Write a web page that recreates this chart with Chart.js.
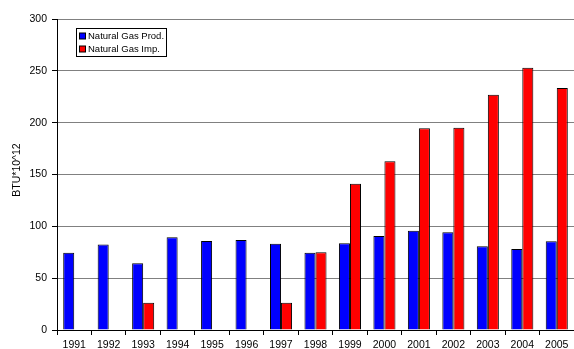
<!DOCTYPE html>
<html>
<head>
<meta charset="utf-8">
<title>Natural Gas</title>
<script src="https://cdn.jsdelivr.net/npm/chart.js@4.4.1/dist/chart.umd.min.js"></script>
<style>
    html, body { margin: 0; padding: 0; background: #fff; }
    #wrap { width: 574px; height: 349px; }
</style>
</head>
<body>
<div id="wrap"><canvas id="gasChart" width="574" height="349"></canvas></div>
<script>
// Chart data
const years = ['1991', '1992', '1993', '1994', '1995', '1996', '1997', '1998',
    '1999', '2000', '2001', '2002', '2003', '2004', '2005'];
const production = [74.5, 82.5, 64.5, 89.5, 85.8, 86.8, 83.2, 74.5, 83.6, 90.7, 95.8, 94.3, 80.7, 78.1, 85.5];
const imports = [null, null, 26.3, null, null, null, 26.3, 75, 141, 162.7, 194.5, 195, 227, 253, 233.4];
const yTicks = [0, 50, 100, 150, 200, 250, 300];
const yTitle = 'BTU*10^12';

const fontFamily = 'Arial, "Liberation Sans", sans-serif';

// Legend box drawn inside the plot area
const boxLegend = {
    id: 'boxLegend',
    afterDraw(chart) {
        const ctx = chart.ctx;
        const x = 76, y = 28, w = 90, h = 28;
        ctx.save();
        ctx.fillStyle = '#fff';
        ctx.fillRect(x, y, w, h);
        ctx.strokeStyle = '#000';
        ctx.lineWidth = 1;
        ctx.strokeRect(x + 0.5, y + 0.5, w, h);
        ctx.font = '9.5px ' + fontFamily;
        ctx.textBaseline = 'middle';
        chart.data.datasets.forEach((ds, i) => {
            const cy = y + 8 + i * 13;
            ctx.fillStyle = ds.backgroundColor;
            ctx.fillRect(79.5, cy - 3, 6, 6);
            ctx.strokeStyle = '#000';
            ctx.strokeRect(79.5, cy - 3, 6, 6);
            ctx.fillStyle = '#000';
            ctx.fillText(ds.label, 88, cy + 0.5);
        });
        ctx.restore();
    }
};

// Y axis title, sits a bit above the axis middle like the original
const axisTitle = {
    id: 'axisTitle',
    afterDraw(chart) {
        const ctx = chart.ctx;
        ctx.save();
        ctx.translate(17.5, 170);
        ctx.rotate(-Math.PI / 2);
        ctx.font = '10.5px ' + fontFamily;
        ctx.fillStyle = '#000';
        ctx.textAlign = 'center';
        ctx.textBaseline = 'middle';
        ctx.fillText(yTitle, 0, 0);
        ctx.restore();
    }
};

new Chart(document.getElementById('gasChart'), {
    type: 'bar',
    data: {
        labels: years,
        datasets: [{
            label: 'Natural Gas Prod.',
            data: production,
            backgroundColor: '#0000FF',
            borderColor: '#000',
            borderWidth: 1,
            categoryPercentage: 0.64,
            barPercentage: 1.0
        }, {
            label: 'Natural Gas Imp.',
            data: imports,
            backgroundColor: '#FF0000',
            borderColor: '#000',
            borderWidth: 1,
            categoryPercentage: 0.64,
            barPercentage: 1.0
        }]
    },
    options: {
        responsive: false,
        animation: false,
        layout: { padding: { top: 19, right: 0, left: 0, bottom: 0 } },
        plugins: {
            legend: { display: false },
            tooltip: { enabled: false }
        },
        scales: {
            x: {
                afterFit: scale => { scale.height = 19; },
                grid: {
                    offset: true,
                    drawOnChartArea: false,
                    color: '#000',
                    tickLength: 5
                },
                border: { color: '#000', width: 1 },
                ticks: {
                    color: '#000',
                    padding: 4,
                    maxRotation: 0,
                    autoSkip: false,
                    font: { family: fontFamily, size: 10.5 }
                }
            },
            y: {
                min: 0,
                max: 300,
                afterFit: scale => { scale.width = 57; },
                afterBuildTicks: scale => {
                    scale.ticks = yTicks.map(v => ({ value: v }));
                },
                grid: {
                    color: '#808080',
                    tickColor: '#000',
                    tickLength: 5
                },
                border: { color: '#000', width: 1 },
                ticks: {
                    color: '#000',
                    padding: 5,
                    font: { family: fontFamily, size: 10.5 }
                }
            }
        }
    },
    plugins: [boxLegend, axisTitle]
});
</script>
</body>
</html>
